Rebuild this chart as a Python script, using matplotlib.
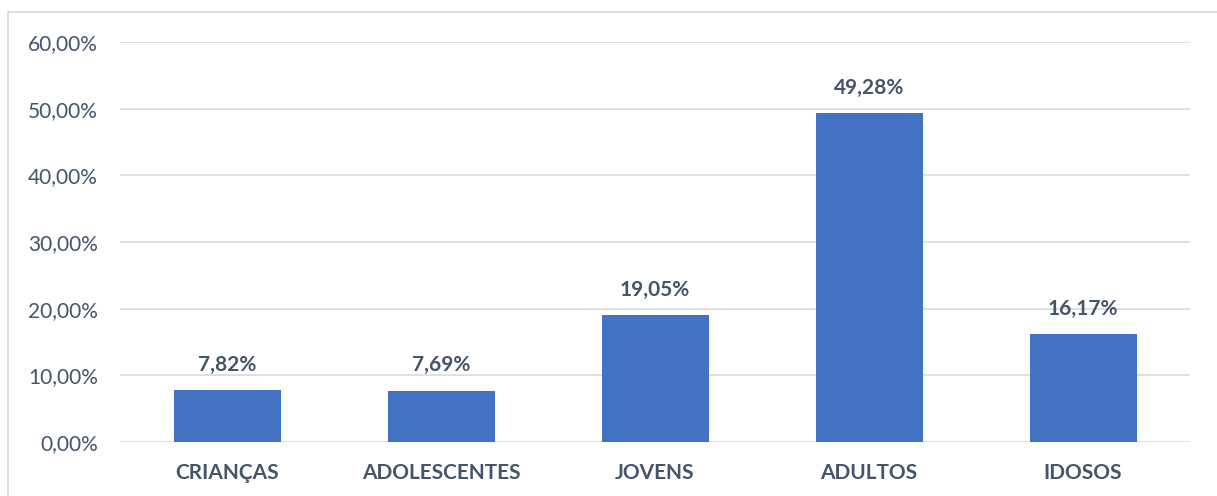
import matplotlib
matplotlib.use("Agg")
import matplotlib.pyplot as plt
from matplotlib.patches import Rectangle

categories = ["CRIANÇAS", "ADOLESCENTES", "JOVENS", "ADULTOS", "IDOSOS"]
values = [7.82, 7.69, 19.05, 49.28, 16.17]
yticks = [0, 10, 20, 30, 40, 50, 60]

W, H = 1217, 496
fig = plt.figure(figsize=(W / 100, H / 100), dpi=100)
plt.rcParams['font.family'] = ['Lato', 'DejaVu Sans']
txt = '#44546A'

ax = fig.add_axes([120 / W, 54 / H, (1190 - 120) / W, 400 / H])
x = list(range(len(categories)))
ax.bar(x, values, width=0.5, color='#4472C4', zorder=3)
ax.set_xlim(-0.5, len(categories) - 0.5)
ax.set_ylim(0, 60)
ax.set_yticks(yticks)
ax.set_yticklabels([f"{v:.2f}%".replace('.', ',') for v in yticks], fontsize=15, color=txt)
ax.set_xticks(x)
ax.set_xticklabels(categories, fontsize=15, color=txt, fontweight='bold')
ax.tick_params(length=0)
ax.tick_params(axis='y', pad=16)
ax.tick_params(axis='x', pad=15)
ax.grid(axis='y', color='#D9D9D9', lw=1.2, zorder=0)
for s in ax.spines.values():
    s.set_visible(False)

for xi, v in zip(x, values):
    ax.annotate(f"{v:.2f}%".replace('.', ','), (xi, v), xytext=(0, 11),
                textcoords='offset points', ha='center', va='bottom',
                fontsize=15, fontweight='bold', color=txt)

fig.patches.append(Rectangle((8 / W, -0.1), 1.2, 1.1 - 12 / H + 0.0,
                             transform=fig.transFigure, fill=False,
                             edgecolor='#D9D9D9', lw=1.2))

fig.savefig("out.png", dpi=100)
